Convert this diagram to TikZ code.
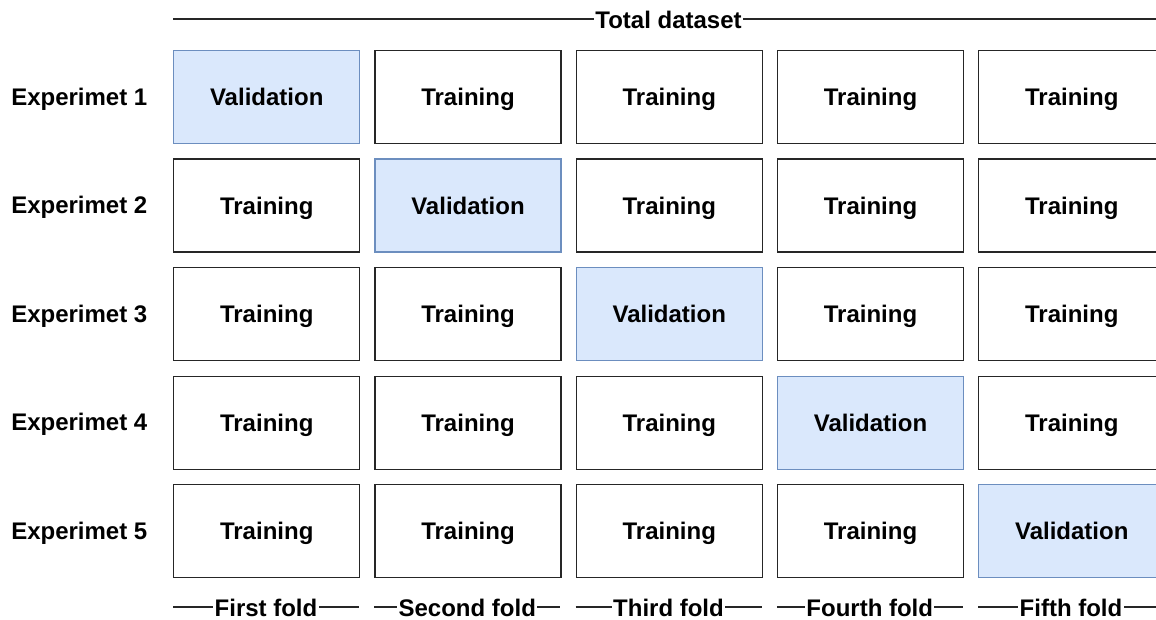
\documentclass[tikz,border=0pt]{standalone}
\usepackage{fontspec}
\setmainfont{Liberation Sans}
\begin{document}
\begin{tikzpicture}[x=0.75pt,y=-0.75pt,
  every node/.style={font=\bfseries\fontsize{18}{21}\selectfont, text height=12.9pt, text depth=0pt},
  cell/.style={draw=black!85, line width=1.1pt, minimum width=139.5pt, minimum height=69.75pt, inner sep=0pt, anchor=north west},
  valcell/.style={cell, fill={rgb,255:red,218;green,232;blue,252}},
  gaplabel/.style={fill=white, inner xsep=1pt, inner ysep=2pt},
  rule/.style={draw=black!85, line width=0.9pt}]
\useasboundingbox (0,0) rectangle (1156,620);
\clip (0,0) rectangle (1156,620);
\definecolor{valborder}{RGB}{108,142,191}
% top rule
\coordinate (tl) at (173,19);
\coordinate (tr) at (1164,19);
\draw[rule] (tl) -- (tr);
\node[gaplabel] (total) at (668.5,19.5) {Total dataset};
% grid
\foreach \r in {1,...,5} {
  \pgfmathsetmacro{\yy}{50+108.5*(\r-1)}
  \node[anchor=west, inner sep=0pt] (exp\r) at (11,\yy+46.5) {Experimet \r};
  \foreach \c in {1,...,5} {
    \pgfmathsetmacro{\xx}{173+201.25*(\c-1)}
    \ifnum\r=\c
      \node[valcell, draw=valborder] (c\r\c) at (\xx,\yy) {Validation};
    \else
      \node[cell] (c\r\c) at (\xx,\yy) {Training};
    \fi
  }
}
% fold labels
\foreach \c/\t in {1/First fold,2/Second fold,3/Third fold,4/Fourth fold,5/Fifth fold} {
  \pgfmathsetmacro{\xx}{173+201.25*(\c-1)}
  \coordinate (fl\c) at (\xx,607);
  \coordinate (fr\c) at (\xx+186,607);
  \draw[rule] (fl\c) -- (fr\c);
  \node[gaplabel] (fold\c) at (\xx+93,607.5) {\t};
}
\end{tikzpicture}
\end{document}
